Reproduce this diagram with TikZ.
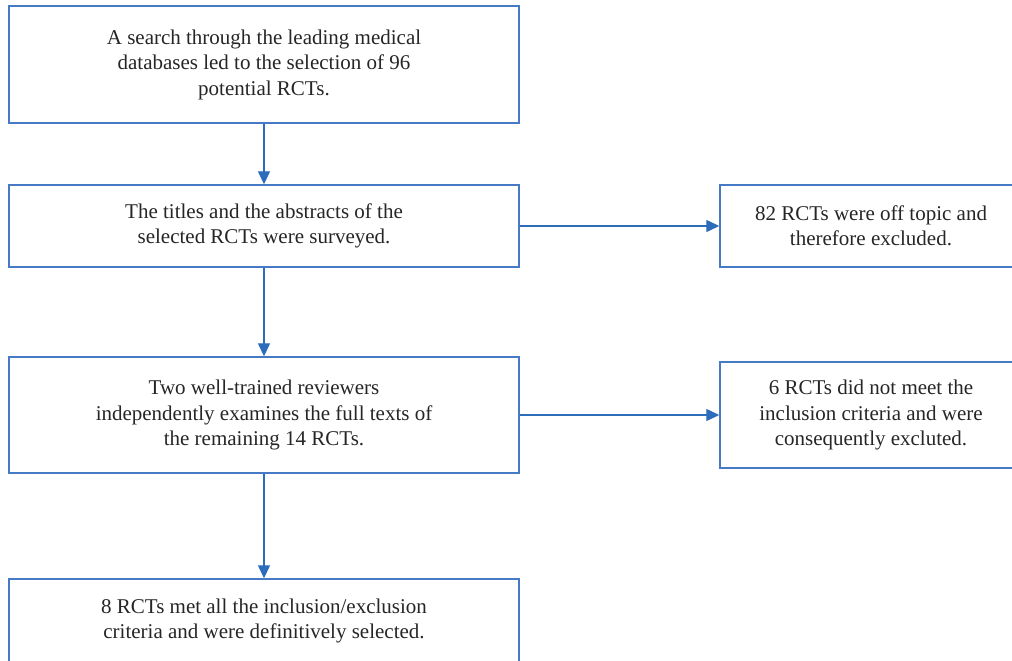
\documentclass[tikz,border=0pt]{standalone}
\usepackage{fontspec}
\setmainfont{Liberation Serif}
\usetikzlibrary{arrows.meta}
\definecolor{boxblue}{RGB}{70,122,196}
\definecolor{arrblue}{RGB}{44,108,186}
\tikzset{
  flowbox/.style={draw=boxblue, line width=1.4pt, rectangle, inner sep=0pt,
    align=center, font=\fontsize{21}{25.5}\selectfont, text=black!85},
  conn/.style={draw=arrblue, line width=1.3pt, -{Triangle[length=13pt,width=12pt]}}
}
\begin{document}
\begin{tikzpicture}[x=1pt,y=-1pt]
\useasboundingbox (0,0) rectangle (1012,661);
\clip (0,0) rectangle (1012,661);
\fill[white] (0,0) rectangle (1012,661);
\node[flowbox, minimum width=510pt, minimum height=117pt] (b1) at (264,64.5)
  {A search through the leading medical\\databases led to the selection of 96\\potential RCTs.};
\node[flowbox, minimum width=510pt, minimum height=82pt] (b2) at (264,226)
  {The titles and the abstracts of the\\selected RCTs were surveyed.};
\node[flowbox, minimum width=510pt, minimum height=116pt] (b3) at (264,415)
  {Two well-trained reviewers\\independently examines the full texts of\\the remaining 14 RCTs.};
\node[flowbox, minimum width=510pt, minimum height=84pt] (b4) at (264,621)
  {8 RCTs met all the inclusion/exclusion\\criteria and were definitively selected.};
\node[flowbox, minimum width=302pt, minimum height=82pt] (r1) at (871,226)
  {82 RCTs were off topic and\\therefore excluded.};
\node[flowbox, minimum width=302pt, minimum height=106pt] (r2) at (871,415)
  {6 RCTs did not meet the\\inclusion criteria and were\\consequently excluted.};
\draw[conn] (b1.south) -- (b2.north);
\draw[conn] (b2.south) -- (b3.north);
\draw[conn] (b3.south) -- (b4.north);
\draw[conn] (b2.east) -- (r1.west);
\draw[conn] (b3.east) -- (r2.west);
\end{tikzpicture}
\end{document}
